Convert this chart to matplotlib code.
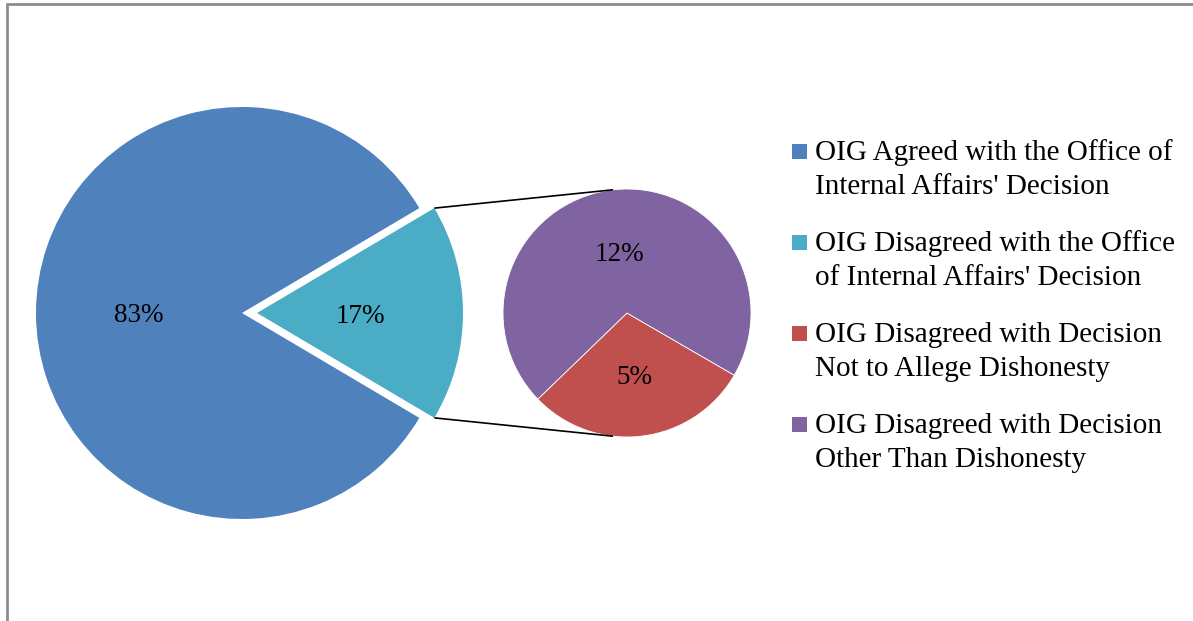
import numpy as np
import matplotlib
matplotlib.use('Agg')
import matplotlib.pyplot as plt
from matplotlib.patches import Rectangle

plt.rcParams['font.family'] = ['Liberation Serif', 'DejaVu Serif']

# data
main_labels = ["OIG Agreed with the Office of\nInternal Affairs' Decision",
               "OIG Disagreed with the Office\nof Internal Affairs' Decision"]
main_values = [83, 17]
sub_labels = ["OIG Disagreed with Decision\nNot to Allege Dishonesty",
              "OIG Disagreed with Decision\nOther Than Dishonesty"]
sub_values = [5, 12]

main_colors = ['#4F81BD', '#4BACC6']
sub_colors = ['#C0504D', '#8064A2']

W, H = 1193, 621
fig = plt.figure(figsize=(W / 100, H / 100), dpi=100)
ax = fig.add_axes([0, 0, 1, 1])

total = sum(main_values)
pct = lambda p: '%.0f%%' % (p * sum(sub_values) / 100.0)
lbl_props = {'fontsize': 19.5, 'va': 'center_baseline'}

# main pie (pixel units, y measured upward)
cx1, cy1, r1 = 242, H - 313, 206
gap = 15
start1 = 360 * main_values[1] / total / 2
ax.pie(main_values, center=(cx1, cy1), radius=r1,
       startangle=start1, colors=main_colors,
       explode=[0, gap], autopct='%1.0f%%',
       pctdistance=0.5, textprops=lbl_props,
       wedgeprops={'linewidth': 0})

# secondary pie
cx2, cy2, r2 = 627, H - 313, 124
ax.pie(sub_values, center=(cx2, cy2), radius=r2, startangle=224,
       colors=sub_colors, autopct=pct, pctdistance=0.5,
       textprops=lbl_props,
       wedgeprops={'linewidth': 0.6, 'edgecolor': 'white'})

# connector lines from the exploded slice to the second pie
tip_x = cx1 + gap
for sgn in (1, -1):
    a1 = np.deg2rad(sgn * start1)
    a2 = np.deg2rad(sgn * 96.5)
    ax.plot([tip_x + r1 * np.cos(a1), cx2 + r2 * np.cos(a2)],
            [cy1 + r1 * np.sin(a1), cy2 + r2 * np.sin(a2)],
            color='black', lw=1.2, solid_capstyle='butt')

ax.set_xlim(0, W)
ax.set_ylim(0, H)
ax.set_aspect('equal')
ax.axis('off')

# chart border
ax.add_patch(Rectangle((7, -20), W + 20, H - 4 + 20, fill=False,
                       edgecolor='#8C8C8C', lw=2, clip_on=False))

# legend, marker aligned with first line
leg_labels = main_labels + sub_labels
leg_colors = main_colors + sub_colors
for i, (lab, col) in enumerate(zip(leg_labels, leg_colors)):
    base = 160 + 91 * i
    ax.add_patch(Rectangle((792, H - base + 1), 15, 15, color=col, lw=0))
    for j, line in enumerate(lab.split('\n')):
        ax.text(815, H - (base + 34 * j), line, fontsize=21.0,
                va='baseline', ha='left')

fig.savefig('out.png', dpi=100)
